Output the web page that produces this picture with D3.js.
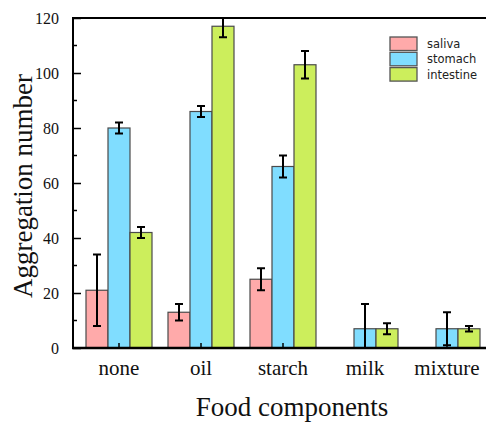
<!DOCTYPE html>
<html>
<head>
<meta charset="utf-8">
<script src="https://cdn.jsdelivr.net/npm/d3@7"></script>
<style>
  html, body { margin: 0; padding: 0; background: #fff; }
  svg { display: block; }
</style>
</head>
<body>
<svg id="chart" width="486" height="422"></svg>
<script>
// Food components on the x axis, digestion stages as series
const categories = ["none", "oil", "starch", "milk", "mixture"];
const seriesNames = ["saliva", "stomach", "intestine"];
const salivaValues = [21, 13, 25, 0, 0];
const salivaErrors = [13, 3, 4, null, null];
const stomachValues = [80, 86, 66, 7, 7];
const stomachErrors = [2, 2, 4, 9, 6];
const intestineValues = [42, 117, 103, 7, 7];
const intestineErrors = [2, 4, 5, 2, 1];
const yTicks = [0, 20, 40, 60, 80, 100, 120];

const seriesValues = [salivaValues, stomachValues, intestineValues];
const seriesErrors = [salivaErrors, stomachErrors, intestineErrors];
const colors = ["#ffaaaa", "#80ddff", "#ccee5c"];

const svg = d3.select("#chart");
const plotLeft = 73, plotRight = 486, plotTop = 18, plotBottom = 348;

const x = d3.scaleBand().domain(categories).range([78, 488]).padding(0);
const xInner = d3.scaleBand().domain(seriesNames).range([-33, 33]).padding(0);
const y = d3.scaleLinear().domain([0, 120]).range([plotBottom, plotTop]);

svg.append("defs").append("clipPath").attr("id", "plotClip")
  .append("rect").attr("x", plotLeft).attr("y", plotTop)
  .attr("width", plotRight - plotLeft).attr("height", plotBottom - plotTop);

// flatten into bar records
const bars = [];
seriesNames.forEach((s, si) => {
  categories.forEach((c, ci) => {
    const v = seriesValues[si][ci];
    if (v > 0) bars.push({ s, si, c, v, e: seriesErrors[si][ci] });
  });
});

const plot = svg.append("g").attr("clip-path", "url(#plotClip)");

plot.selectAll("rect.bar").data(bars).join("rect")
  .attr("class", "bar")
  .attr("x", d => x(d.c) + x.bandwidth() / 2 + xInner(d.s))
  .attr("y", d => y(d.v))
  .attr("width", xInner.bandwidth())
  .attr("height", d => y(0) - y(d.v))
  .attr("fill", d => colors[d.si])
  .attr("stroke", "#4a4a4a")
  .attr("stroke-width", 1.2);

// error bars
const errs = bars.filter(d => d.e != null);
const cx = d => x(d.c) + x.bandwidth() / 2 + xInner(d.s) + xInner.bandwidth() / 2;
const eg = plot.selectAll("g.err").data(errs).join("g").attr("class", "err")
  .attr("stroke", "#000").attr("stroke-width", 2);
eg.append("line")
  .attr("x1", cx).attr("x2", cx)
  .attr("y1", d => y(d.v + d.e)).attr("y2", d => y(d.v - d.e));
eg.append("line")
  .attr("x1", d => cx(d) - 4).attr("x2", d => cx(d) + 4)
  .attr("y1", d => y(d.v + d.e)).attr("y2", d => y(d.v + d.e));
eg.append("line")
  .attr("x1", d => cx(d) - 4).attr("x2", d => cx(d) + 4)
  .attr("y1", d => y(d.v - d.e)).attr("y2", d => y(d.v - d.e));

// y axis: inward major and minor ticks
const yAxisG = svg.append("g").attr("transform", `translate(${plotLeft},0)`);
yAxisG.selectAll("line.minor").data(d3.range(10, 120, 20)).join("line")
  .attr("class", "minor")
  .attr("x1", 0).attr("x2", 4)
  .attr("y1", d => y(d)).attr("y2", d => y(d))
  .attr("stroke", "#000").attr("stroke-width", 1.5);
yAxisG.call(d3.axisLeft(y).tickValues(yTicks).tickSizeInner(-8).tickSizeOuter(0).tickPadding(14))
  .call(g => g.select(".domain").remove())
  .call(g => g.selectAll(".tick line").attr("stroke-width", 1.5))
  .call(g => g.selectAll(".tick text")
    .attr("font-family", "'Liberation Serif', 'Times New Roman', serif")
    .attr("font-size", 16).attr("fill", "#111"));

// x axis ticks pointing up at category centres
const xAxisG = svg.append("g").attr("transform", `translate(0,${plotBottom})`);
xAxisG.call(d3.axisBottom(x).tickSizeInner(-5).tickSizeOuter(0).tickPadding(12))
  .call(g => g.select(".domain").remove())
  .call(g => g.selectAll(".tick line").attr("stroke-width", 1.5))
  .call(g => g.selectAll(".tick text")
    .attr("font-family", "'Liberation Serif', 'Times New Roman', serif")
    .attr("font-size", 21).attr("fill", "#111"));

// frame: left, bottom and top lines
svg.append("line").attr("x1", plotLeft).attr("x2", plotLeft).attr("y1", plotTop - 1).attr("y2", plotBottom + 1)
  .attr("stroke", "#000").attr("stroke-width", 2);
svg.append("line").attr("x1", plotLeft - 1).attr("x2", plotRight).attr("y1", plotBottom).attr("y2", plotBottom)
  .attr("stroke", "#000").attr("stroke-width", 2.5);
svg.append("line").attr("x1", plotLeft - 1).attr("x2", plotRight).attr("y1", plotTop).attr("y2", plotTop)
  .attr("stroke", "#000").attr("stroke-width", 2);

// axis titles
svg.append("text")
  .attr("transform", "translate(32,186) rotate(-90)")
  .attr("text-anchor", "middle")
  .attr("font-family", "'Liberation Serif', 'Times New Roman', serif")
  .attr("font-size", 27).attr("fill", "#111")
  .text("Aggregation number");
svg.append("text")
  .attr("x", 292).attr("y", 416)
  .attr("text-anchor", "middle")
  .attr("font-family", "'Liberation Serif', 'Times New Roman', serif")
  .attr("font-size", 27).attr("fill", "#111")
  .text("Food components");

// legend
const legend = svg.append("g").attr("transform", "translate(390,37)");
const lg = legend.selectAll("g").data(seriesNames).join("g")
  .attr("transform", (d, i) => `translate(0,${i * 15.3})`);
lg.append("rect").attr("width", 27).attr("height", 13.5)
  .attr("fill", (d, i) => colors[i]).attr("stroke", "#555").attr("stroke-width", 1.3);
lg.append("text").attr("x", 37).attr("y", 11)
  .attr("font-family", "'DejaVu Sans', Verdana, sans-serif")
  .attr("font-size", 11.5).attr("fill", "#222")
  .text(d => d);
</script>
</body>
</html>
